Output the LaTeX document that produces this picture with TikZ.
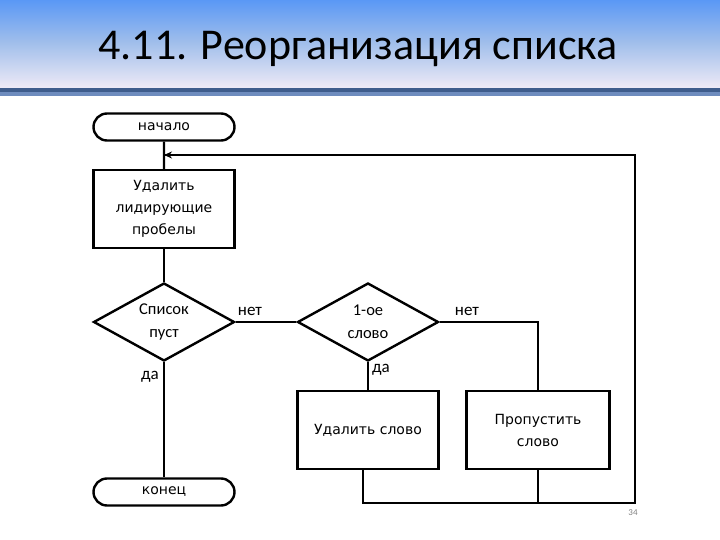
\documentclass[tikz,border=0pt]{standalone}
\usepackage{fontspec}
\setmainfont{Carlito}
\newfontfamily\boxfont{DejaVu Sans}
\usetikzlibrary{shapes.geometric,shapes.misc,arrows.meta}
\definecolor{hdtop}{RGB}{90,152,245}
\definecolor{hdmid}{RGB}{160,190,235}
\definecolor{hdbot}{RGB}{238,234,246}
\definecolor{bardark}{RGB}{62,92,140}
\definecolor{barlight}{RGB}{110,140,190}
\tikzset{
  ln/.style={line width=2.4pt, line join=miter},
  term/.style={ln, draw, rounded rectangle, minimum width=141pt, minimum height=27pt, inner sep=0pt, font=\boxfont\fontsize{14}{16}\selectfont},
  proc/.style={ln, draw, rectangle, minimum width=141pt, minimum height=78pt, inner sep=2pt, align=center, font=\boxfont\fontsize{14}{22}\selectfont},
  dec/.style={ln, draw, diamond, shape aspect=1.8, minimum width=141pt, minimum height=78pt, inner sep=0pt, align=center, font=\fontsize{16.5}{23}\selectfont},
  lbl/.style={font=\fontsize{17}{19}\selectfont, inner sep=0pt}
}
\begin{document}
\begin{tikzpicture}[x=1pt,y=-1pt]
\useasboundingbox (0,0) rectangle (720,540);
\fill[white] (0,0) rectangle (720,540);
% header
\shade[top color=hdtop, bottom color=hdmid] (0,0) rectangle (720,42);
\shade[top color=hdmid, bottom color=hdbot] (0,42) rectangle (720,88);
\fill[bardark] (0,88) rectangle (720,92);
\fill[barlight] (0,92) rectangle (720,96);
\node[font=\fontsize{44}{48}\selectfont, anchor=center] (title) at (358,49) {4.11. Реорганизация списка};
% nodes
\node[term] (start) at (164,127) {начало};
\node[proc] (rem) at (164,209) {Удалить\\лидирующие\\пробелы};
\node[dec] (d1) at (164,322) {Список\\пуст};
\node[dec] (d2) at (368,322) {1-ое\\слово};
\node[proc] (delw) at (368,430) {Удалить слово};
\node[proc, minimum width=143pt] (skip) at (538,430) {Пропустить\\слово};
\node[term] (end) at (164,492) {конец};
% labels
\node[lbl] (n1) at (250,311) {нет};
\node[lbl] (n2) at (467,311) {нет};
\node[lbl] (y1) at (150,377) {да};
\node[lbl] (y2) at (381,370) {да};
\node[font=\fontsize{9}{10}\selectfont, text=gray] (pg) at (633,513) {34};
% connectors
\coordinate (c1) at (635,503);
\coordinate (c2) at (635,155);
\coordinate (c3) at (164,155);
\coordinate (dl) at (363,470);
\draw[ln] (start) -- (rem);
\draw[ln] (rem) -- (d1);
\draw[ln] (d1.east) -- (d2.west);
\draw[ln] (d1.south) -- (end.north);
\draw[ln] (d2.south) -- (delw.north);
\draw[ln] (d2.east) -| (skip.north);
\draw[ln] (dl) |- (c1) -- (c2) -- (c3);
\draw[line width=1.6pt, -{Stealth[length=8pt,width=7pt]}] (175,155) -- (c3);
\draw[ln] (skip.south) -- (skip.south |- c1);
\end{tikzpicture}
\end{document}
